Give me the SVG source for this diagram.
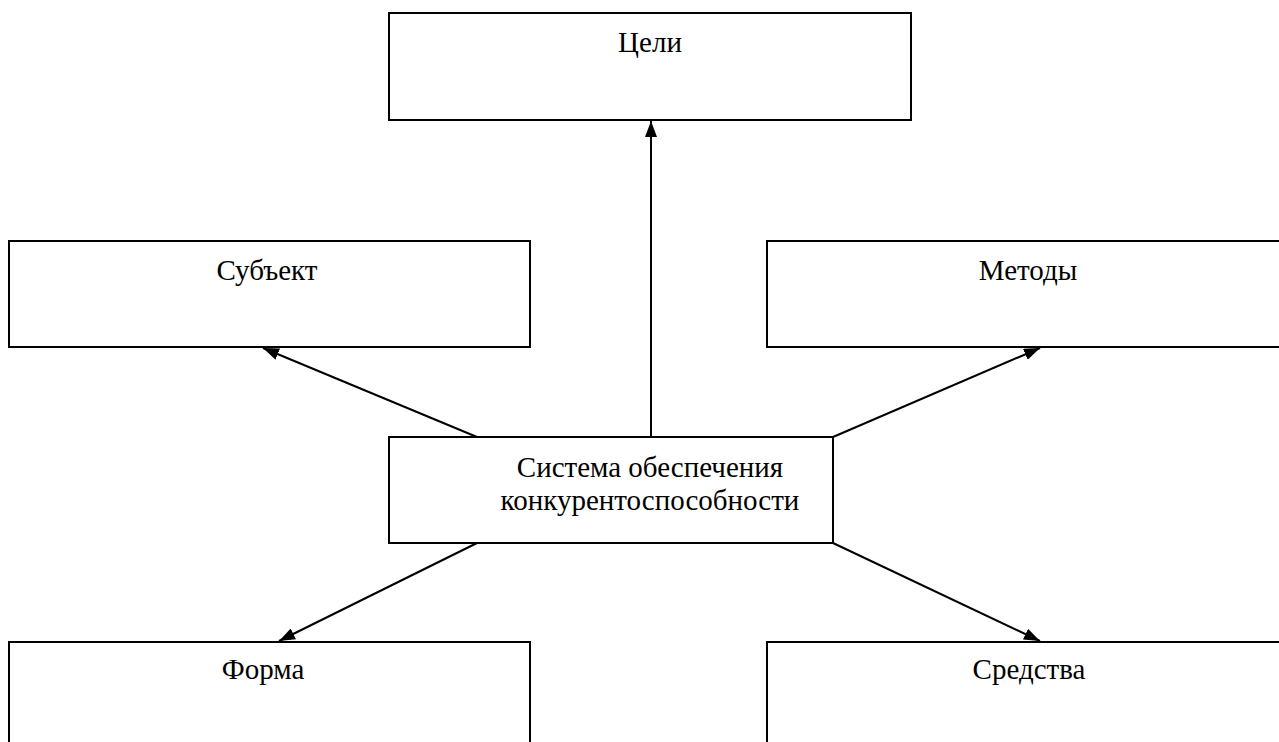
<svg xmlns="http://www.w3.org/2000/svg" width="1279" height="742" viewBox="0 0 1279 742">
<style>
.box{fill:#fff;stroke:#000;stroke-width:2}
.lbl{font-family:"Liberation Serif","Times New Roman","DejaVu Serif",serif;font-size:29px;fill:#000;text-anchor:middle}
.con{stroke:#000;stroke-width:2;fill:none;marker-end:url(#ah)}
</style>
<defs>
<marker id="ah" viewBox="0 0 16 12" refX="16" refY="6" markerWidth="16" markerHeight="12" markerUnits="userSpaceOnUse" orient="auto">
<path d="M0,0 L16,6 L0,12 Z" fill="#000"/>
</marker>
</defs>
<rect width="1279" height="742" fill="#fff"/>
<g id="goals"><rect class="box" x="389" y="13" width="522" height="107"/><text class="lbl" x="650" y="52">Цели</text></g>
<g id="subject"><rect class="box" x="9" y="241" width="521" height="106"/><text class="lbl" x="267" y="280">Субъект</text></g>
<g id="methods"><rect class="box" x="767" y="241" width="520" height="106"/><text class="lbl" x="1028" y="280">Методы</text></g>
<g id="system"><rect class="box" x="389" y="437" width="444" height="106"/><text class="lbl" x="650" y="477">Система обеспечения</text><text class="lbl" x="650" y="510">конкурентоспособности</text></g>
<g id="form"><rect class="box" x="9" y="642" width="521" height="110"/><text class="lbl" x="263" y="679">Форма</text></g>
<g id="means"><rect class="box" x="767" y="642" width="520" height="110"/><text class="lbl" x="1029" y="679">Средства</text></g>
<g id="connectors">
<line class="con" x1="651" y1="437" x2="651" y2="121"/>
<line class="con" x1="477" y1="437" x2="263" y2="348"/>
<line class="con" x1="833" y1="437" x2="1040" y2="348"/>
<line class="con" x1="477" y1="543" x2="279" y2="641"/>
<line class="con" x1="833" y1="543" x2="1040" y2="641"/>
</g>
</svg>
